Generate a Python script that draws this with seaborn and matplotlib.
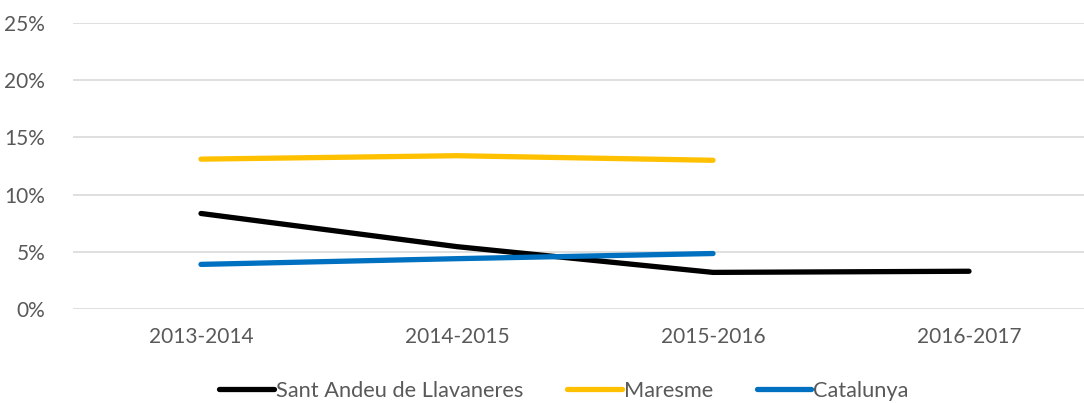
import numpy as np
import pandas as pd
import matplotlib
matplotlib.use("Agg")
import matplotlib.pyplot as plt
import seaborn as sns
from matplotlib.ticker import FuncFormatter
from matplotlib.lines import Line2D

categories = ["2013-2014", "2014-2015", "2015-2016", "2016-2017"]
sant_andreu = [8.35, 5.45, 3.2, 3.3]
maresme = [13.1, 13.4, 13.0, np.nan]
catalunya = [3.9, 4.4, 4.85, np.nan]
series_names = ["Sant Andeu de Llavaneres", "Maresme", "Catalunya"]
colors = ["#000000", "#FFC000", "#0070C0"]

rows = []
for name, vals in zip(series_names, [sant_andreu, maresme, catalunya]):
    for c, v in zip(categories, vals):
        if not np.isnan(v):
            rows.append({"Curs": c, "Valor": v, "Serie": name})
df = pd.DataFrame(rows)

sns.set_style("white")
plt.rcParams["font.family"] = ["Lato", "DejaVu Sans"]

W, H = 1084, 403
fig = plt.figure(figsize=(W / 100, H / 100), dpi=100)
left, right, top, bottom = 73, 1097, 23, 309
ax = fig.add_axes([left / W, 1 - bottom / H, (right - left) / W, (bottom - top) / H])

sns.lineplot(data=df, x="Curs", y="Valor", hue="Serie", hue_order=series_names,
             palette=colors, linewidth=3.8, ax=ax, legend=False,
             solid_capstyle="round", sort=False)

ax.set_xlim(-0.5, 3.5)
ax.set_ylim(0, 25)
ax.set_yticks([0, 5, 10, 15, 20, 25])
ax.yaxis.set_major_formatter(FuncFormatter(lambda v, p: f"{int(v)}%"))
ax.grid(axis="y", color="#D9D9D9", linewidth=1.2)
ax.set_axisbelow(True)
for s in ax.spines.values():
    s.set_visible(False)
ax.tick_params(axis="both", length=0, labelsize=15, colors="#595959")
ax.tick_params(axis="y", pad=20)
ax.tick_params(axis="x", pad=13)
ax.set_xlabel("")
ax.set_ylabel("")

handles = [Line2D([0], [0], color=c, linewidth=3.8, solid_capstyle="round") for c in colors]
leg = fig.legend(handles, series_names, loc="center", bbox_to_anchor=(564 / W, 1 - 391 / H),
                 ncol=3, frameon=False, fontsize=15.7, handlelength=2.5,
                 handletextpad=0.1, columnspacing=2.0, labelcolor="#595959")

fig.savefig("out.png", dpi=100)
